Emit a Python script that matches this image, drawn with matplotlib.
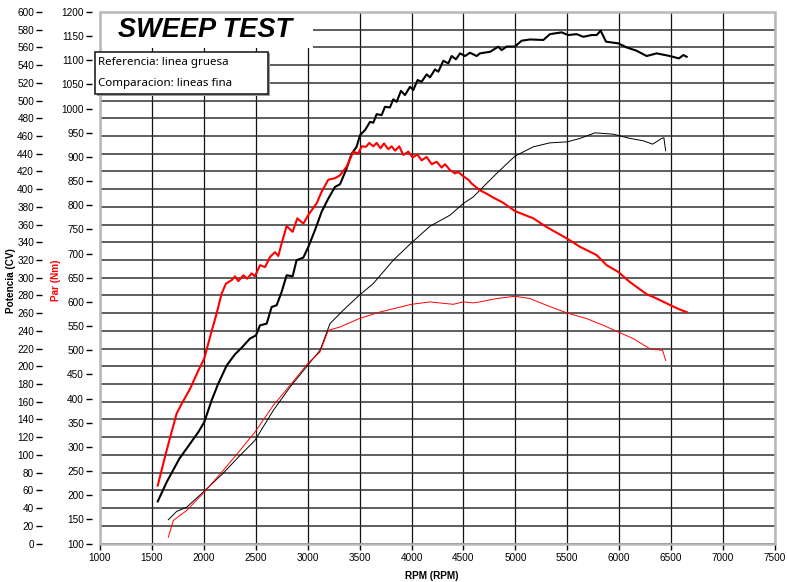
import matplotlib
matplotlib.use("Agg")
import matplotlib.pyplot as plt
from matplotlib.patches import Rectangle
import numpy as np

plt.rcParams['font.family'] = ['Liberation Sans', 'DejaVu Sans']

# referencia (linea gruesa) - potencia CV
ref_pot_rpm = [1556, 1642, 1764, 1867, 1947, 2004, 2075, 2139, 2220, 2300, 2364, 2444, 2502, 2541,
               2605, 2653, 2701, 2749, 2797, 2855, 2893, 2958, 3006, 3070, 3134, 3199, 3263, 3311,
               3375, 3423, 3471, 3504, 3552, 3600, 3632, 3664, 3712, 3744, 3792, 3824, 3857, 3898,
               3937, 3985, 4017, 4058, 4097, 4145, 4178, 4226, 4258, 4306, 4354, 4386, 4428, 4467,
               4515, 4563, 4627, 4659, 4723, 4755, 4835, 4867, 4916, 4996, 5060, 5141, 5269, 5333,
               5445, 5509, 5590, 5654, 5734, 5783, 5821, 5873, 5991, 6071, 6167, 6264, 6360, 6488,
               6575, 6617, 6649]
ref_pot_cv = [47.5, 69.3, 95.7, 112.6, 125.8, 137.1, 161.6, 180.5, 201, 213.6, 221, 231.3, 235, 246.3,
              248.2, 267, 269, 284, 302.8, 301.7, 319.8, 322.8, 334.8, 353.7, 374.4, 389.5, 402.6, 405.5,
              423.4, 440, 447.8, 461, 466.7, 476, 475, 484.7, 483.6, 493, 492.3, 501.4, 498.6, 511,
              506.2, 515.6, 511.9, 523.2, 521.2, 529.6, 526.2, 535.2, 532.6, 545, 542, 550.3, 546.6, 553.3,
              550.3, 554, 550.3, 553.3, 554.5, 555, 560.8, 557, 561, 561, 567.6, 569, 568.4, 575,
              577, 574, 575, 572, 574, 574, 578.9, 566.5, 564.6, 560, 556.3, 550.3, 553.3, 550.3,
              547.6, 551.4, 549.5]

# referencia (linea gruesa) - par Nm
ref_par_rpm = [1556, 1642, 1738, 1786, 1867, 1947, 2004, 2059, 2123, 2171, 2213, 2268, 2300, 2332,
               2380, 2418, 2460, 2492, 2541, 2589, 2637, 2685, 2717, 2749, 2797, 2855, 2900, 2958,
               3006, 3086, 3134, 3199, 3263, 3311, 3375, 3439, 3487, 3520, 3561, 3593, 3632, 3664,
               3702, 3735, 3776, 3808, 3841, 3882, 3921, 3969, 4011, 4055, 4097, 4145, 4194, 4242,
               4290, 4322, 4370, 4418, 4451, 4498, 4547, 4579, 4659, 4723, 4787, 4884, 4996, 5172,
               5300, 5499, 5622, 5782, 5879, 5991, 6103, 6264, 6360, 6495, 6585, 6649]
ref_par_nm = [220, 293, 369, 389, 420, 458, 483, 527, 576, 617, 638, 645, 653, 643,
              655, 648, 659, 653, 676, 672, 693, 703, 695, 721, 757, 745, 773, 762,
              780, 804, 828, 853, 856, 862, 880, 911, 907, 922, 921, 929, 922, 929,
              918, 928, 916, 922, 913, 922, 904, 911, 899, 905, 893, 900, 885, 890,
              878, 885, 873, 866, 869, 860, 853, 845, 831, 824, 816, 805, 788, 773,
              755, 731, 714, 697, 676, 662, 641, 616, 607, 593, 584, 579]

# comparacion (linea fina) - potencia CV
cmp_pot_rpm = [1658, 1738, 1835, 2004, 2187, 2348, 2492, 2669, 2830, 2999, 3118, 3166, 3215, 3342,
               3496, 3631, 3824, 3998, 4178, 4370, 4498, 4595, 4659, 4819, 4996, 5172, 5333, 5499,
               5622, 5766, 5942, 6103, 6232, 6322, 6409, 6430, 6447]
cmp_pot_cv = [26.8, 36.2, 41, 59.1, 79.4, 99.4, 116.4, 150.3, 176.6, 201, 218, 233, 248.3, 263.3,
              280.2, 293.4, 319.8, 339.3, 358.2, 370.6, 383.8, 391.3, 398.9, 417.7, 437.3, 447.8, 452.3, 453.4,
              457.3, 463.6, 462.1, 457.3, 454.6, 450.8, 457.3, 458, 443.3]

# comparacion (linea fina) - par Nm
cmp_par_rpm = [1658, 1706, 1835, 2004, 2187, 2348, 2492, 2669, 2830, 2999, 3118, 3199, 3311, 3496,
               3696, 3998, 4178, 4402, 4498, 4595, 4659, 4819, 4996, 5140, 5300, 5499, 5686, 5846,
               5991, 6135, 6296, 6418, 6447]
cmp_par_nm = [113, 147.6, 168.4, 206.3, 251.2, 292.7, 330.6, 385.9, 427.3, 472.3, 496.3, 541.3, 548, 565.5,
              579, 595, 600, 595, 600, 598, 600, 607, 611.7, 607, 593, 577, 565.5, 551.6,
              537.7, 524, 503, 499.8, 479]

rpm_ticks = list(range(1000, 7501, 500))
cv_ticks = list(range(0, 601, 20))
nm_ticks = list(range(100, 1201, 50))

fig = plt.figure(figsize=(7.88, 5.82), dpi=100)
ax = fig.add_axes([100 / 788, 38.5 / 582, 675 / 788, 531.5 / 582])
ax2 = ax.twinx()

# potencia en el eje principal (lleva la rejilla)
ax.set_xlim(1000, 7500)
ax.set_ylim(0, 600)
ax.set_xticks(rpm_ticks)
ax.set_yticks(cv_ticks)
ax.grid(True, axis='x', color='#111111', lw=0.9)
ax.grid(True, axis='y', color='#333333', lw=1.1)
for s in ax.spines.values():
    s.set_visible(False)
ax.spines['left'].set_position(('outward', 42))
ax.tick_params(axis='y', length=4, width=1, pad=1.5, labelsize=7.2, colors='black')
ax.tick_params(axis='x', length=4, width=1, pad=3, labelsize=7.2, colors='black')

ax2.set_ylim(100, 1200)
ax2.set_yticks(nm_ticks)
for s in ax2.spines.values():
    s.set_visible(False)
ax2.yaxis.tick_left()
ax2.yaxis.set_label_position('left')
ax2.spines['left'].set_position(('outward', 6))
ax2.tick_params(axis='y', length=4, width=1, pad=1.5, labelsize=7.2, colors='black')

# marco gris
ax.add_patch(Rectangle((0, 0), 1, 1, transform=ax.transAxes, fill=False,
                       ec='#b8b8b8', lw=1.8, zorder=5, clip_on=False))

ax.plot(ref_pot_rpm, ref_pot_cv, color='black', lw=1.5, zorder=3)
ax.plot(cmp_pot_rpm, cmp_pot_cv, color='black', lw=0.7, zorder=3)
ax2.plot(ref_par_rpm, ref_par_nm, color='#ff0000', lw=1.5, zorder=3)
ax2.plot(cmp_par_rpm, cmp_par_nm, color='#ff0000', lw=0.7, zorder=3)

ax.set_xlabel('RPM (RPM)', fontsize=7.2, fontweight='bold')
ax.xaxis.set_label_coords(0.492, -0.052)
ax.set_ylabel('Potencia (CV)', fontsize=7.2, fontweight='bold', color='black')
ax.yaxis.set_label_coords(-0.124, 0.495)
ax2.set_ylabel('Par (Nm)', fontsize=7.2, fontweight='bold', color='#ff0000')
ax2.yaxis.set_label_coords(-0.058, 0.495)

# titulo en caja blanca
ax.add_patch(Rectangle((0, 1 - 36 / 531.5), 213 / 675, 36 / 531.5, transform=ax.transAxes,
                       fc='white', ec='none', zorder=4))
fig.text(205 / 788, 1 - 30 / 582, 'SWEEP TEST', fontsize=19.5, fontweight='bold', fontstyle='italic',
         ha='center', va='center', zorder=10)

# leyenda
x0, x1 = 95 / 788, 268 / 788
yt, ym, yb = 1 - 51.7 / 582, 1 - 72.3 / 582, 1 - 94 / 582
fig.patches.append(Rectangle((x0 + 1.5 / 788, yb - 1.5 / 582), x1 - x0, yt - yb, transform=fig.transFigure,
                             fc='#9a9a9a', ec='none', zorder=8))
fig.patches.append(Rectangle((x0, yb), x1 - x0, yt - yb, transform=fig.transFigure,
                             fc='white', ec='#222222', lw=1.2, zorder=9))
fig.lines.append(plt.Line2D([x0, x1], [ym, ym], transform=fig.transFigure, color='#222222', lw=1.2, zorder=9))
fig.text(x0 + 3 / 788, (yt + ym) / 2, 'Referencia: linea gruesa', fontsize=8.3, family='Noto Sans',
         ha='left', va='center', zorder=10)
fig.text(x0 + 3 / 788, (ym + yb) / 2, 'Comparacion: lineas fina', fontsize=8.3, family='Noto Sans',
         ha='left', va='center', zorder=10)

fig.savefig('out.png', dpi=100)
